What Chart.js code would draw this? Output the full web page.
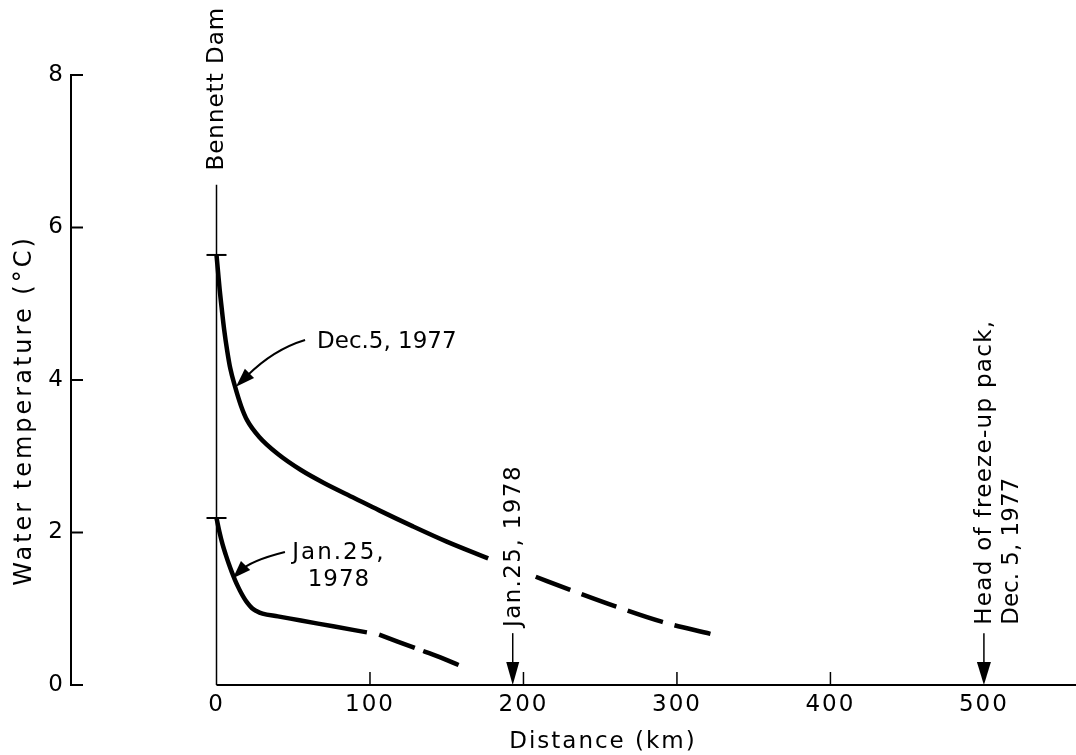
<!DOCTYPE html>
<html><head><meta charset="utf-8">
<script src="https://cdn.jsdelivr.net/npm/chart.js@4.4.1/dist/chart.umd.min.js"></script>
<style>html,body{margin:0;padding:0;background:#fff;overflow:hidden}#wrap{width:1076px;height:755px;position:relative;background:#fff}</style>
</head><body><div id="wrap"><canvas id="c" width="1076" height="755"></canvas></div>
<script>
// ---- data (distance km, water temperature °C) ----
const dec5SolidKm   = [0, 1, 2, 3.5, 5, 7, 9, 12, 16, 20, 28, 40, 55, 70, 90, 106, 128, 150, 177];
const dec5SolidTemp = [5.64, 5.42, 5.2, 4.92, 4.66, 4.38, 4.15, 3.92, 3.66, 3.47, 3.25, 3.03, 2.82, 2.65, 2.45, 2.29, 2.08, 1.88, 1.66];
const dec5DashKm    = [208, 230, 260, 290, 322];
const dec5DashTemp  = [1.42, 1.25, 1.03, 0.83, 0.67];
const jan25SolidKm   = [0, 2, 4, 6, 8, 10, 12, 14, 16, 18, 20, 23, 26, 30, 40, 55, 76, 98];
const jan25SolidTemp = [2.19, 2.0, 1.84, 1.71, 1.59, 1.48, 1.38, 1.29, 1.21, 1.14, 1.08, 1.01, 0.97, 0.935, 0.9, 0.845, 0.77, 0.69];
const jan25DashKm    = [106, 118, 130, 145, 158];
const jan25DashTemp  = [0.66, 0.57, 0.48, 0.37, 0.26];
const xTickValues = [0, 100, 200, 300, 400, 500];
const yTickValues = [0, 2, 4, 6, 8];
const xInnerTickValues = [100, 200, 300, 400];
const damKm = 0;
const jan25PackKm = 193;
const dec5PackKm = 500;

const FONT = 'DejaVu Sans';
const pts = (xs, ys) => xs.map((v, i) => ({x: v, y: ys[i]}));

function lineDs(data, dash) {
  return {
    data, borderColor: '#000', borderWidth: 4.5, pointRadius: 0,
    cubicInterpolationMode: 'monotone', borderDash: dash || [],
    borderCapStyle: 'butt', borderJoinStyle: 'round', fill: false
  };
}

const annot = {
  id: 'annot',
  beforeDraw(chart) { chart.ctx.letterSpacing = '2px'; },
  afterDatasetsDraw(chart) {
    const {ctx, scales: {x, y}, chartArea: ca} = chart;
    const X = v => x.getPixelForValue(v), Y = v => y.getPixelForValue(v);
    const seg = (x1, y1, x2, y2) => { ctx.beginPath(); ctx.moveTo(x1, y1); ctx.lineTo(x2, y2); ctx.stroke(); };
    const head = (tx, ty, fx, fy, len, hw) => {
      const a = Math.atan2(ty - fy, tx - fx), c = Math.cos(a), s = Math.sin(a);
      ctx.beginPath(); ctx.moveTo(tx, ty);
      ctx.lineTo(tx - len * c + hw * s, ty - len * s - hw * c);
      ctx.lineTo(tx - len * c - hw * s, ty - len * s + hw * c);
      ctx.closePath(); ctx.fill();
    };
    const txt = (s, px, py, o) => {
      ctx.save();
      ctx.font = (o.size || 23) + 'px "' + FONT + '"';
      ctx.letterSpacing = (o.ls || 0) + 'px';
      ctx.fillStyle = '#000';
      ctx.translate(px, py);
      if (o.rot) ctx.rotate(-Math.PI / 2);
      ctx.textAlign = o.align || 'center';
      ctx.textBaseline = 'middle';
      ctx.fillText(s, o.dx || 0, o.dy || 0);
      ctx.restore();
    };
    ctx.save();
    ctx.strokeStyle = '#000'; ctx.fillStyle = '#000';
    // x axis line (starts at the dam)
    ctx.lineWidth = 2;
    seg(X(damKm), Y(0), ca.right, Y(0));
    // inward y ticks
    for (const t of yTickValues) seg(ca.left, Y(t), ca.left + 12, Y(t));
    // inward x ticks
    ctx.lineWidth = 1.5;
    for (const t of xInnerTickValues) seg(X(t), Y(0), X(t), Y(0) - 13);
    // Bennett Dam line
    ctx.lineWidth = 1.5;
    seg(X(damKm), Y(6.56), X(damKm), Y(0));
    ctx.lineWidth = 2;
    seg(X(damKm) - 10, Y(dec5SolidTemp[0]), X(damKm) + 10, Y(dec5SolidTemp[0]));
    seg(X(damKm) - 10, Y(jan25SolidTemp[0]), X(damKm) + 10, Y(jan25SolidTemp[0]));
    txt('Bennett Dam', X(damKm) + 1, Y(7.82), {rot: true, ls: 1});

    // Dec.5, 1977 curved arrow
    ctx.lineWidth = 2;
    {
      const sx = X(57.7), sy = Y(4.525), cx = X(37.2), cy = Y(4.40), tx = X(12.7), ty = Y(3.91);
      const ex = tx + (cx - tx) * 0.3, ey = ty + (cy - ty) * 0.3;
      ctx.beginPath(); ctx.moveTo(sx, sy); ctx.quadraticCurveTo(cx, cy, ex, ey); ctx.stroke();
      head(tx, ty, cx, cy, 19, 6.5);
      txt('Dec.5, 1977', X(65.5), Y(4.5), {align: 'left', ls: 0});
    }
    // Jan.25, 1978 curved arrow
    {
      const sx = X(44.6), sy = Y(1.744), cx = X(22.0), cy = Y(1.63), tx = X(10.7), ty = Y(1.40);
      const ex = tx + (cx - tx) * 0.4, ey = ty + (cy - ty) * 0.4;
      ctx.beginPath(); ctx.moveTo(sx, sy); ctx.quadraticCurveTo(cx, cy, ex, ey); ctx.stroke();
      head(tx, ty, cx, cy, 18, 6.5);
      txt('Jan.25,', X(79.8), Y(1.73), {ls: 2});
      txt('1978', X(79.8), Y(1.38), {ls: 1});
    }
    // Jan.25, 1978 pack head arrow
    ctx.lineWidth = 1.5;
    seg(X(jan25PackKm), Y(0.68), X(jan25PackKm), Y(0) - 18);
    head(X(jan25PackKm), Y(0), X(jan25PackKm), Y(1), 23, 6.5);
    txt('Jan.25, 1978', X(jan25PackKm) + 1, Y(0.76), {rot: true, align: 'left', ls: 1.4});
    // Dec.5, 1977 pack head arrow
    seg(X(dec5PackKm), Y(0.68), X(dec5PackKm), Y(0) - 18);
    head(X(dec5PackKm), Y(0), X(dec5PackKm), Y(1), 23, 7);
    txt('Head of freeze-up pack,', X(dec5PackKm) + 1, Y(0.79), {rot: true, align: 'left', ls: 1.3});
    txt('Dec. 5, 1977', X(dec5PackKm) + 1, Y(0.79), {rot: true, align: 'left', ls: 0, dy: 27});

    // axis titles
    txt('Water temperature (°C)', ca.left - 46, Y(3.6), {rot: true, size: 24, ls: 3});
    txt('Distance (km)', X(251.8), ca.bottom + 57, {size: 23, ls: 2});
    ctx.restore();
  }
};

new Chart(document.getElementById('c'), {
  type: 'line',
  data: {
    datasets: [
      lineDs(pts(dec5SolidKm, dec5SolidTemp)),
      lineDs(pts(dec5DashKm, dec5DashTemp), [37, 12]),
      lineDs(pts(jan25SolidKm, jan25SolidTemp)),
      lineDs(pts(jan25DashKm, jan25DashTemp), [38, 9])
    ]
  },
  options: {
    responsive: false, animation: false, devicePixelRatio: 1,
    layout: {padding: {top: 75, left: 0, right: 0, bottom: 0}},
    plugins: {legend: {display: false}, tooltip: {enabled: false}},
    scales: {
      x: {
        type: 'linear', min: -94.8, max: 560,
        afterBuildTicks: s => { s.ticks = xTickValues.map(v => ({value: v})); },
        afterFit: s => { s.height = 70; },
        grid: {display: false, drawTicks: false},
        border: {display: false},
        ticks: {color: '#000', font: {family: FONT, size: 23}, padding: 6, maxRotation: 0, autoSkip: false}
      },
      y: {
        min: 0, max: 8,
        afterBuildTicks: s => { s.ticks = yTickValues.map(v => ({value: v})); },
        afterFit: s => { s.width = 71; },
        grid: {display: false, drawTicks: false},
        border: {display: true, width: 2, color: '#000'},
        ticks: {color: '#000', font: {family: FONT, size: 23}, padding: 6}
      }
    }
  },
  plugins: [annot]
});
</script></body></html>
